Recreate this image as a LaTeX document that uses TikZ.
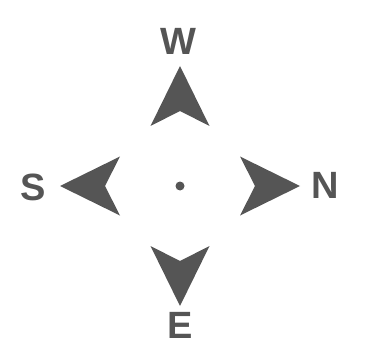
\documentclass[tikz,border=0pt]{standalone}
\usepackage{fontspec}
\setmainfont{Liberation Sans}
\definecolor{compassgray}{HTML}{555555}
\tikzset{
  pointer/.style={fill=compassgray, draw=none},
  heading/.style={text=compassgray, font=\fontsize{38}{42}\selectfont\bfseries, inner sep=0pt},
}
\begin{document}
\begin{tikzpicture}[x=1pt, y=-1pt]
    \useasboundingbox (0,0) rectangle (386,361);
    % Centre
    \coordinate (c) at (180,186);
    \fill[compassgray] (c) circle (4.5);
    % Pointers
    \fill[pointer] (180,66) -- (209.5,126) -- (180,111) -- (150.5,126) -- cycle;
    \fill[pointer] (180,306) -- (209.5,246) -- (180,261) -- (150.5,246) -- cycle;
    \fill[pointer] (60,186) -- (120,156.5) -- (105,186) -- (120,215.5) -- cycle;
    \fill[pointer] (300,186) -- (240,156.5) -- (255,186) -- (240,215.5) -- cycle;
    % Labels
    \node[heading] (w) at (178,41) {W};
    \node[heading] (e) at (180,325) {E};
    \node[heading] (s) at (33,187) {S};
    \node[heading] (n) at (325,185) {N};
\end{tikzpicture}
\end{document}
